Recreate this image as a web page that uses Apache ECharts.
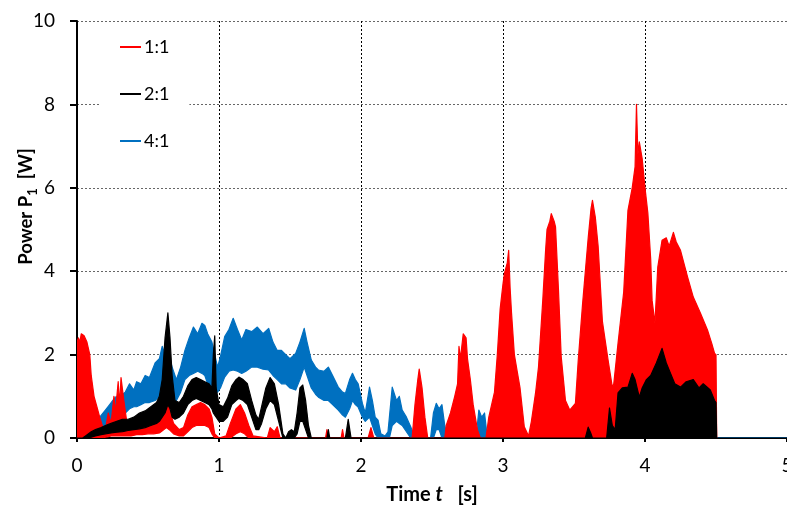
<!DOCTYPE html>
<html>
<head>
<meta charset="utf-8">
<script src="https://cdn.jsdelivr.net/npm/echarts@6/dist/echarts.min.js"></script>
<style>
html,body{margin:0;padding:0;background:#fff;}
#chart{width:787px;height:509px;}
</style>
</head>
<body>
<div id="chart"></div>
<script>
// Tick labels / axis ranges
var xTicks = [0, 1, 2, 3, 4, 5];
var yTicks = [0, 2, 4, 6, 8, 10];
var seriesNames = ['1:1', '2:1', '4:1'];
var seriesColors = ['#ff0000', '#000000', '#0070c0'];

// Each entry: [time t (s), lower envelope (W), upper envelope (W)]
var red11 = [
 [0,0,2.3],[0.01,0,2.4],[0.02,0,2.3],[0.03,0,2.5],[0.05,0,2.45],[0.07,0,2.3],[0.09,0,2.0],[0.1,0,1.5],
 [0.12,0,1.0],[0.14,0,0.75],[0.16,0,0.5],[0.18,0,0.28],[0.2,0.02,0.2],[0.22,0.03,0.6],[0.24,0.05,0.35],
 [0.26,0.05,1.0],[0.27,0.05,0.6],[0.29,0.05,1.35],[0.3,0.05,0.8],[0.31,0.05,1.45],[0.33,0.05,0.9],
 [0.35,0.05,0.4],[0.38,0.05,0.3],[0.42,0.08,0.25],[0.46,0.08,0.25],[0.5,0.1,0.3],[0.54,0.1,0.35],
 [0.58,0.12,0.5],[0.61,0.2,0.8],[0.63,0.25,0.95],[0.65,0.2,0.7],[0.68,0.1,0.35],[0.72,0.05,0.2],
 [0.75,0.05,0.25],[0.78,0.15,0.55],[0.81,0.25,0.75],[0.84,0.3,0.8],[0.87,0.3,0.85],[0.9,0.3,0.8],
 [0.93,0.25,0.7],[0.95,0.1,0.5],[0.97,0,0.1],[1.0,0,0],[1.05,0,0.05],[1.08,0,0.35],[1.12,0.1,0.7],
 [1.15,0.15,0.8],[1.18,0.1,0.6],[1.21,0,0.3],[1.24,0,0.05],[1.34,0,0],[1.36,0,0.25],[1.39,0,0.15],
 [1.41,0,0.27],[1.43,0,0],[1.75,0,0],[1.76,0,0.2],[1.77,0,0],[1.86,0,0],[1.87,0,0.2],[1.88,0,0],
 [2.05,0,0],[2.07,0,0.25],[2.09,0,0],[2.36,0,0],[2.38,0,0.8],[2.4,0,1.4],[2.41,0,1.65],[2.43,0,1.2],
 [2.45,0,0.5],[2.47,0,0],[2.59,0,0],[2.6,0,0.3],[2.63,0,0.6],[2.66,0,1.0],[2.68,0,1.3],[2.69,0,2.2],
 [2.7,0,1.9],[2.72,0,2.5],[2.74,0,2.4],[2.75,0,1.9],[2.77,0,1.4],[2.79,0,0.8],[2.82,0,0.2],[2.84,0,0],
 [2.88,0,0],[2.9,0,0.5],[2.94,0,1.1],[2.96,0,2.0],[2.98,0,3.1],[3.0,0,3.7],[3.01,0,3.95],[3.03,0,4.2],
 [3.04,0,4.5],[3.05,0,3.6],[3.06,0,3.0],[3.08,0,2.0],[3.1,0,1.6],[3.12,0,1.2],[3.15,0,0.27],[3.18,0,0.05],
 [3.2,0,0.4],[3.23,0,1.1],[3.25,0,1.7],[3.28,0,3.3],[3.3,0,4.5],[3.31,0,5.0],[3.33,0,5.2],[3.34,0,5.38],
 [3.36,0,5.2],[3.37,0,5.06],[3.39,0,3.6],[3.41,0,1.95],[3.44,0,0.9],[3.47,0,0.67],[3.51,0,0.83],
 [3.53,0,1.87],[3.56,0,3.2],[3.6,0,4.8],[3.62,0,5.5],[3.63,0,5.7],[3.65,0,5.3],[3.67,0,4.6],[3.7,0,2.8],
 [3.74,0,1.87],[3.77,0,1.22],[3.78,0,1.3],[3.81,0,2.27],[3.85,0,3.5],[3.88,0,5.46],[3.91,0,6.0],
 [3.93,0,6.5],[3.94,0,8.0],[3.95,0,6.8],[3.96,0,7.1],[3.98,0,6.7],[4.0,0,6.0],[4.02,0,5.4],[4.04,0,4.3],
 [4.05,0,3.3],[4.07,0,2.75],[4.09,0,4.1],[4.12,0,4.74],[4.15,0,4.8],[4.17,0,4.6],[4.2,0,4.93],
 [4.22,0,4.7],[4.25,0,4.5],[4.3,0,3.86],[4.34,0,3.38],[4.39,0,3.0],[4.44,0,2.59],[4.47,0,2.27],
 [4.49,0,2.03],[4.5,0,2.0],[4.505,0,0]
];

var black21 = [
 [0,0,0],[0.04,0,0],[0.06,0,0.05],[0.1,0.02,0.15],[0.13,0.05,0.2],[0.17,0.08,0.25],[0.2,0.1,0.3],
 [0.24,0.12,0.35],[0.28,0.14,0.4],[0.32,0.15,0.45],[0.36,0.18,0.45],[0.4,0.2,0.5],[0.44,0.22,0.6],
 [0.48,0.25,0.65],[0.52,0.3,0.75],[0.56,0.35,0.85],[0.58,0.4,1.0],[0.6,0.5,1.4],[0.62,0.6,2.4],
 [0.64,0.8,3.0],[0.655,0.7,2.4],[0.67,0.5,1.5],[0.69,0.45,0.9],[0.72,0.5,0.85],[0.75,0.6,1.0],
 [0.78,0.8,1.25],[0.81,0.9,1.4],[0.84,0.95,1.45],[0.87,0.9,1.4],[0.9,0.85,1.35],[0.93,0.8,1.3],
 [0.95,0.7,1.2],[0.96,0.6,2.0],[0.97,0.55,2.45],[0.98,0.5,1.2],[1.0,0.4,0.8],[1.03,0.4,0.75],
 [1.06,0.5,0.95],[1.09,0.8,1.25],[1.12,0.9,1.4],[1.14,0.95,1.46],[1.17,0.9,1.4],[1.2,0.8,1.3],
 [1.23,0.5,0.9],[1.26,0.2,0.55],[1.28,0.2,0.45],[1.3,0.35,0.75],[1.33,0.7,1.2],[1.36,0.9,1.45],
 [1.39,0.8,1.3],[1.42,0.4,0.8],[1.45,0,0.1],[1.47,0,0],[1.49,0,0.15],[1.51,0,0.2],[1.53,0,0.15],
 [1.55,0.1,0.6],[1.57,0.4,1.2],[1.59,0.4,1.27],[1.61,0.2,0.9],[1.63,0,0.3],[1.65,0,0],[1.76,0,0],
 [1.77,0,0.2],[1.78,0,0],[1.89,0,0],[1.91,0,0.45],[1.93,0,0],[3.58,0,0],[3.6,0,0.26],[3.62,0,0.1],
 [3.63,0,0],[3.73,0,0],[3.75,0,0.72],[3.77,0,0.3],[3.79,0,0.2],[3.81,0,1.08],[3.84,0,1.2],[3.88,0,1.22],
 [3.91,0,1.55],[3.93,0,1.4],[3.96,0,0.98],[3.98,0,1.2],[4.01,0,1.4],[4.04,0,1.5],[4.08,0,1.8],
 [4.12,0,2.15],[4.15,0,1.8],[4.18,0,1.55],[4.21,0,1.3],[4.25,0,1.22],[4.29,0,1.35],[4.34,0,1.4],
 [4.38,0,1.2],[4.41,0,1.3],[4.46,0,1.15],[4.49,0,0.9],[4.5,0,0.85],[4.505,0,0]
];

var blue41 = [
 [0,0,0],[0.03,0,0],[0.06,0,0.1],[0.1,0.05,0.3],[0.13,0.1,0.43],[0.16,0.2,0.5],[0.2,0.3,0.67],
 [0.23,0.35,0.8],[0.27,0.45,0.98],[0.3,0.55,1.0],[0.34,0.6,1.1],[0.37,0.7,1.3],[0.4,0.75,1.15],
 [0.42,0.75,1.35],[0.45,0.8,1.3],[0.48,0.85,1.5],[0.51,0.85,1.45],[0.55,0.9,1.8],[0.58,1.0,1.9],
 [0.6,1.1,2.2],[0.62,1.0,2.0],[0.64,1.0,2.1],[0.67,0.95,1.7],[0.7,0.9,1.4],[0.73,1.1,1.7],
 [0.76,1.4,2.1],[0.79,1.5,2.4],[0.82,1.55,2.66],[0.85,1.6,2.5],[0.88,1.55,2.75],[0.9,1.5,2.7],
 [0.92,1.3,2.5],[0.95,1.2,2.3],[0.97,1.1,2.0],[0.99,1.1,1.7],[1.01,1.2,1.95],[1.04,1.46,2.43],
 [1.07,1.6,2.6],[1.1,1.63,2.87],[1.13,1.6,2.6],[1.16,1.55,2.35],[1.19,1.6,2.6],[1.23,1.7,2.55],
 [1.27,1.7,2.66],[1.31,1.65,2.5],[1.35,1.63,2.63],[1.38,1.5,2.3],[1.41,1.4,2.1],[1.44,1.3,2.1],
 [1.47,1.3,2.0],[1.5,1.2,1.9],[1.54,1.15,2.03],[1.57,1.4,2.3],[1.6,1.7,2.63],[1.62,1.5,2.3],
 [1.65,1.2,1.87],[1.68,1.05,1.7],[1.7,0.98,1.63],[1.74,0.9,1.6],[1.77,0.9,1.7],[1.8,0.8,1.5],
 [1.84,0.67,1.22],[1.87,0.55,1.1],[1.89,0.5,1.07],[1.92,0.7,1.4],[1.94,0.9,1.55],[1.96,0.8,1.4],
 [1.98,0.74,1.3],[2.01,0.5,0.83],[2.03,0.4,0.6],[2.06,0.5,1.22],[2.08,0.3,0.9],[2.1,0.1,0.5],
 [2.12,0,0.43],[2.14,0,0.1],[2.17,0,0.05],[2.19,0,0.15],[2.2,0,0.5],[2.22,0.3,1.22],[2.25,0.4,0.9],
 [2.27,0.35,1.0],[2.29,0.3,0.67],[2.32,0.15,0.5],[2.35,0,0.27],[2.38,0,0],[2.49,0,0],[2.51,0,0.6],
 [2.53,0.2,0.83],[2.55,0.2,0.7],[2.57,0,0.8],[2.59,0,0.3],[2.61,0,0],[2.81,0,0],[2.83,0,0.67],
 [2.85,0,0.5],[2.87,0,0.6],[2.89,0,0],[4.08,0,0],[4.1,0,0.05],[4.12,0,0],[4.18,0,0],[4.2,0,0.05],
 [4.22,0,0],[4.33,0,0],[4.35,0,0.05],[4.37,0,0],[5,0,0]
];

var FONT = 'Lato, "Open Sans", sans-serif';

// Band (min/max envelope) series drawn through the cartesian scales with api.coord
function bandSeries(name, color, rows, z) {
  return {
    name: name,
    type: 'custom',
    coordinateSystem: 'cartesian2d',
    z: z,
    clip: true,
    color: color,
    itemStyle: { color: color },
    data: rows,
    encode: { x: 0, y: [1, 2] },
    renderItem: function (params, api) {
      if (params.dataIndex !== 0) return null;
      var upper = rows.map(function (r) { return api.coord([r[0], r[2]]); });
      var lower = rows.map(function (r) { return api.coord([r[0], r[1]]); }).reverse();
      return {
        type: 'polygon',
        shape: { points: upper.concat(lower) },
        style: { fill: color, stroke: color, lineWidth: 1.2, lineJoin: 'round' }
      };
    }
  };
}

var chart = echarts.init(document.getElementById('chart'), null, { renderer: 'canvas' });

var option = {
  animation: false,
  backgroundColor: '#fff',
  grid: { left: 77, right: 0, top: 21, bottom: 71, containLabel: false, outerBoundsMode: 'none' },
  legend: {
    data: seriesNames,
    orient: 'vertical',
    left: 100, top: 27,
    padding: [11, 20, 15, 20],
    backgroundColor: '#fff',
    itemWidth: 21, itemHeight: 2, itemGap: 29,
    icon: 'rect',
    textStyle: { fontFamily: FONT, fontSize: 18, color: '#000', padding: [0, 0, 0, -2] }
  },
  xAxis: [
    {
      type: 'value', min: xTicks[0], max: xTicks[xTicks.length - 1], interval: 1,
      position: 'bottom',
      name: '{b|Time }{i|t}{b|   [s]}',
      nameLocation: 'middle', nameGap: 47, nameMoveOverlap: false,
      nameTextStyle: {
        fontFamily: FONT, fontSize: 20, fontWeight: 'bold', color: '#000',
        rich: {
          b: { fontFamily: FONT, fontSize: 20, fontWeight: 'bold', color: '#000' },
          i: { fontFamily: FONT, fontSize: 20, fontWeight: 'bold', fontStyle: 'italic', color: '#000' }
        }
      },
      axisLine: { show: true, onZero: false, lineStyle: { color: '#000', width: 2 } },
      axisTick: { show: true, length: 4, lineStyle: { color: '#000', width: 2 } },
      axisLabel: { fontFamily: FONT, fontSize: 19, color: '#000', margin: 18, showMaxLabel: true, alignMaxLabel: 'center', hideOverlap: false },
      splitLine: { show: true, lineStyle: { color: '#000', width: 1, type: [2, 2] } }
    },
    {
      type: 'value', min: xTicks[0], max: xTicks[xTicks.length - 1], interval: 1,
      position: 'top',
      axisLine: { show: true, lineStyle: { color: '#000', width: 2 } },
      axisTick: { show: false }, axisLabel: { show: false }, splitLine: { show: false }
    }
  ],
  yAxis: {
    type: 'value', min: yTicks[0], max: yTicks[yTicks.length - 1], interval: 2,
    name: '{a|Power P}{s|1}{a|  [W]}',
    nameLocation: 'middle', nameGap: 38, nameMoveOverlap: false,
    nameTextStyle: {
      fontFamily: FONT, fontSize: 18.5, fontWeight: 'bold', color: '#000',
      padding: [0, 0, 0, 46],
      rich: {
        a: { fontFamily: FONT, fontSize: 18.5, fontWeight: 'bold', color: '#000', lineHeight: 26 },
        s: { fontFamily: FONT, fontSize: 13, fontWeight: 'bold', color: '#000', lineHeight: 10, verticalAlign: 'bottom' }
      }
    },
    axisLine: { show: true, lineStyle: { color: '#000', width: 2 } },
    axisTick: { show: true, length: 7, lineStyle: { color: '#000', width: 2 } },
    axisLabel: { fontFamily: FONT, fontSize: 19, color: '#000', margin: 22 },
    splitLine: { show: true, lineStyle: { color: '#666', width: 1, type: [2, 2] } }
  },
  series: [
    bandSeries(seriesNames[2], seriesColors[2], blue41, 2),
    bandSeries(seriesNames[0], seriesColors[0], red11, 3),
    bandSeries(seriesNames[1], seriesColors[1], black21, 4)
  ]
};

chart.setOption(option);
</script>
</body>
</html>
